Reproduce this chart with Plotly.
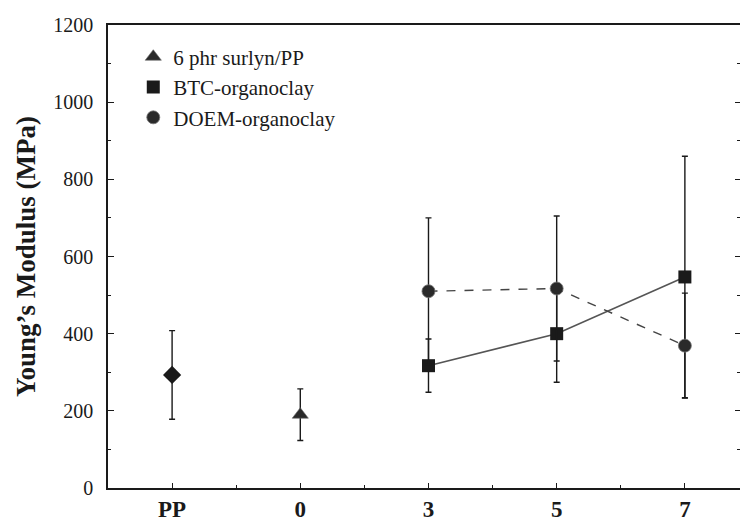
import plotly.graph_objects as go

# Category axis
categories = ["PP", "0", "3", "5", "7"]
cat_pos = [0, 1, 2, 3, 4]

# Neat PP reference
pp_x = [0]
pp_mod = [293]
pp_err = [115]

# 6 phr surlyn/PP
surlyn_x = [1]
surlyn_mod = [190]
surlyn_err = [67]

# BTC-organoclay composites
btc_x = [2, 3, 4]
btc_mod = [317, 400, 547]
btc_err = [69, 126, 313]

# DOEM-organoclay composites
doem_x = [2, 3, 4]
doem_mod = [510, 517, 369]
doem_err = [190, 188, 136]

ink = "#1a1a1a"
serif = "Liberation Serif"

fig = go.Figure()

# connecting lines (not listed in legend)
fig.add_trace(go.Scatter(x=btc_x, y=btc_mod, mode="lines",
                         line=dict(color="#555555", width=1.6),
                         showlegend=False, hoverinfo="skip"))
fig.add_trace(go.Scatter(x=doem_x, y=doem_mod, mode="lines",
                         line=dict(color="#444444", width=1.4, dash="dash"),
                         showlegend=False, hoverinfo="skip"))

errstyle = dict(type="data", visible=True, color=ink, thickness=1.4, width=3)

fig.add_trace(go.Scatter(x=pp_x, y=pp_mod, mode="markers", showlegend=False,
                         marker=dict(symbol="diamond", size=14, color=ink),
                         error_y=dict(array=pp_err, **errstyle)))
fig.add_trace(go.Scatter(x=surlyn_x, y=surlyn_mod, mode="markers",
                         name="6 phr surlyn/PP",
                         marker=dict(symbol="triangle-up", size=14, color="#2a2a2a",
                                     line=dict(color="#666666", width=0.6)),
                         error_y=dict(array=surlyn_err, **errstyle)))
fig.add_trace(go.Scatter(x=btc_x, y=btc_mod, mode="markers",
                         name="BTC-organoclay",
                         marker=dict(symbol="square", size=13, color=ink),
                         error_y=dict(array=btc_err, **errstyle)))
fig.add_trace(go.Scatter(x=doem_x, y=doem_mod, mode="markers",
                         name="DOEM-organoclay",
                         marker=dict(symbol="circle", size=13, color="#2a2a2a",
                                     line=dict(color="#777777", width=0.8)),
                         error_y=dict(array=doem_err, **errstyle)))

# tick-only mirror on the right side
fig.add_trace(go.Scatter(x=[None], y=[None], yaxis="y2", showlegend=False,
                         hoverinfo="skip"))

fig.update_layout(
    width=740, height=525,
    margin=dict(l=108, r=0, t=25, b=37),
    paper_bgcolor="white", plot_bgcolor="white",
    font=dict(family=serif, color=ink),
    showlegend=True,
    legend=dict(x=0.04, y=0.975, xanchor="left", yanchor="top",
                bgcolor="rgba(0,0,0,0)", font=dict(size=21, family=serif),
                itemwidth=30, tracegroupgap=2),
    xaxis=dict(range=[-0.5, 4.43], tickmode="array", tickvals=cat_pos,
               ticktext=categories, showline=True, linecolor=ink, linewidth=1.6,
               mirror=True, ticks="inside", ticklen=5, tickcolor=ink,
               minor=dict(tickvals=[0.5, 1.5, 2.5, 3.5], ticks="inside",
                          ticklen=3, tickcolor=ink),
               showgrid=False, zeroline=False, ticklabelstandoff=0,
               automargin=False,
               tickfont=dict(size=23, family=serif, weight="bold")),
    yaxis=dict(range=[0, 1200], tickmode="linear", tick0=0, dtick=200,
               showline=True, linecolor=ink, linewidth=1.6,
               ticks="inside", ticklen=6, tickcolor=ink,
               minor=dict(dtick=100, ticks="inside", ticklen=3, tickcolor=ink),
               showgrid=False, zeroline=False, ticklabelstandoff=9,
               automargin=False,
               tickfont=dict(size=20, family=serif),
               title=dict(text="Young’s Modulus (MPa)", standoff=10,
                          font=dict(size=27, family=serif, weight="bold"))),
    yaxis2=dict(range=[0, 1200], overlaying="y", side="right", anchor="x",
                tickmode="linear", tick0=0, dtick=200, ticks="inside",
                ticklen=5, tickcolor=ink, showticklabels=False, showline=False,
                showgrid=False, zeroline=False, automargin=False,
                minor=dict(dtick=100, ticks="inside", ticklen=3, tickcolor=ink)),
)

fig.write_html("out.html")
